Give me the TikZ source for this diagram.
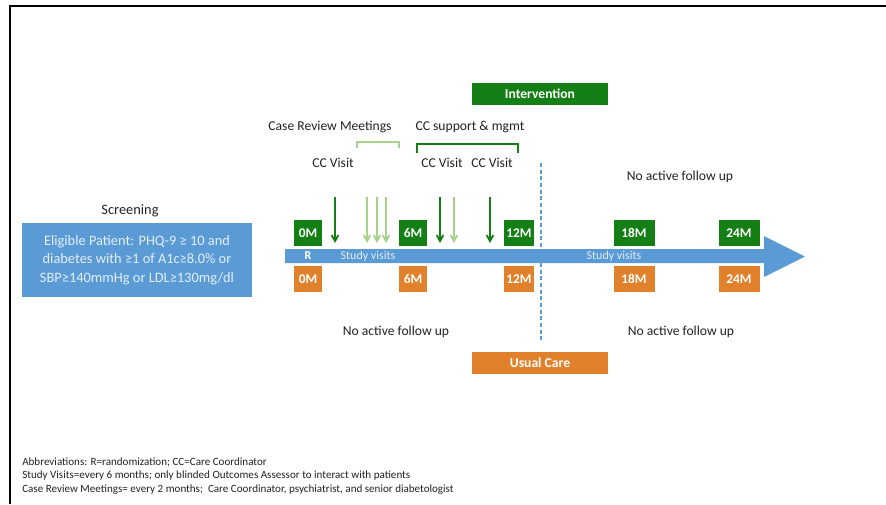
\documentclass[tikz,border=0pt]{standalone}
\usepackage{fontspec}
\setmainfont{Carlito}
\usetikzlibrary{arrows.meta, positioning, calc}
\definecolor{trialGreen}{HTML}{147F14}
\definecolor{trialLight}{HTML}{A9D18E}
\definecolor{trialOrange}{HTML}{E2812B}
\definecolor{trialBlue}{HTML}{5B9BD5}
\definecolor{trialPale}{HTML}{E4EEF8}
\definecolor{trialDark}{HTML}{222222}

\begin{document}
\begin{tikzpicture}[x=0.75pt,y=-0.75pt,
  lbl/.style={font=\fontsize{10.2}{12}\selectfont,text=trialDark,inner sep=0pt},
  monthbox/.style={minimum height=19.5pt,inner sep=0pt,text=white,font=\fontsize{10}{12}\selectfont\bfseries},
  armbox/.style={minimum width=102pt,minimum height=16.5pt,inner sep=0pt,text=white,font=\fontsize{10.2}{12}\selectfont\bfseries},
  visitarrow/.style={line width=1.4pt,-{Straight Barb[length=4.5pt,width=5pt]}},
  bracket/.style={line width=1.5pt}]
\useasboundingbox (0,0) rectangle (886,504);
\draw[black,line width=1.6pt] (10,504) -- (10,6) -- (886,6);

% screening
\node[font=\fontsize{10.8}{13}\selectfont,text=trialDark] (screen) at (130,211) {Screening};
\node[fill=trialBlue,minimum width=172.5pt,minimum height=55.5pt,align=center,inner sep=0pt,
  text=trialPale,font=\fontsize{10.8}{13.9}\selectfont] (elig) at (137,260)
  {Eligible Patient: PHQ-9 ≥ 10 and\\diabetes with ≥1 of A1c≥8.0\% or\\SBP≥140mmHg or LDL≥130mg/dl};

% timeline
\fill[trialBlue] (285,249) -- (764,249) -- (764,236) -- (805,256.5) -- (764,277) -- (764,263) -- (285,263) -- cycle;
\node[text=white,font=\fontsize{9}{10}\selectfont\bfseries] (rand) at (308,256) {R};
\node[text=trialPale,font=\fontsize{9}{10}\selectfont] (sv1) at (368,256) {Study visits};
\node[text=trialPale,font=\fontsize{9}{10}\selectfont] (sv2) at (614,256) {Study visits};
\foreach \m/\x/\w in {0/308/28,6/413/28,12/519/30,18/634/41,24/739/41} {
  \node[monthbox,fill=trialGreen,minimum width=\w*0.75pt] (g\m) at (\x,233) {\m M};
  \node[monthbox,fill=trialOrange,minimum width=\w*0.75pt] (o\m) at (\x,279) {\m M};
}

% randomization split
\coordinate (splitTop) at (541,163);
\coordinate (splitBot) at (541,341);
\draw[trialBlue,line width=1pt,dash pattern=on 3pt off 2pt] (splitTop) -- (splitBot);

% intervention arm
\node[armbox,fill=trialGreen] (interv) at (540,94) {Intervention};
\node[lbl] (crm) at (330,127) {Case Review Meetings};
\node[lbl] (ccs) at (470,127) {CC support \& mgmt};
\draw[bracket,trialLight] (357,148) -- (357,142) -- (399,142) -- (399,148);
\draw[bracket,trialGreen] (417,153) -- (417,144) -- (518,144) -- (518,153);
\node[lbl] (ccv1) at (333,163) {CC Visit};
\node[lbl] (ccv2) at (442,163) {CC Visit};
\node[lbl] (ccv3) at (492,163) {CC Visit};
\foreach \x/\c in {335/trialGreen,367/trialLight,377/trialLight,386/trialLight,440/trialGreen,454/trialLight,490/trialGreen} {
  \coordinate (a\x) at (\x,197);
  \coordinate (b\x) at (\x,243);
  \draw[visitarrow,\c] (a\x) -- (b\x);
}
\node[lbl] (nofu1) at (680,177) {No active follow up};

% usual care arm
\node[lbl] (nofu2) at (396,332) {No active follow up};
\node[lbl] (nofu3) at (681,332) {No active follow up};
\node[armbox,fill=trialOrange] (usual) at (540,363) {Usual Care};

% notes
\node[anchor=west,align=left,inner sep=0pt,text=trialDark,font=\fontsize{8.3}{10.2}\selectfont] (notes) at (22,476)
  {Abbreviations: R=randomization; CC=Care Coordinator\\
   Study Visits=every 6 months; only blinded Outcomes Assessor to interact with patients\\
   Case Review Meetings= every 2 months;\ \ Care Coordinator, psychiatrist, and senior diabetologist};
\end{tikzpicture}
\end{document}
